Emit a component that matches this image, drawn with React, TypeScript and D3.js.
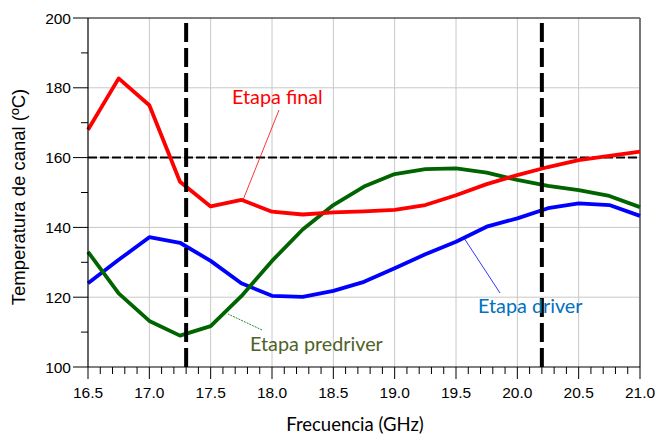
import React from "react";
import * as d3 from "d3";

const freqs = [16.5, 16.75, 17.0, 17.25, 17.5, 17.75, 18.0, 18.25, 18.5, 18.75, 19.0, 19.25, 19.5, 19.75, 20.0, 20.25, 20.5, 20.75, 21.0];
const etapaFinal = [168, 182.7, 175, 153.1, 146, 147.9, 144.5, 143.7, 144.3, 144.6, 145, 146.4, 149.2, 152.4, 155, 157.3, 159.3, 160.5, 161.7];
const etapaPredriver = [133, 121.1, 113.2, 109, 111.7, 120.3, 130.4, 139.4, 146.4, 151.7, 155.3, 156.7, 156.9, 155.7, 153.6, 151.9, 150.7, 149, 145.8];
const etapaDriver = [124, 130.7, 137.2, 135.6, 130.4, 124, 120.4, 120.1, 121.8, 124.4, 128.3, 132.3, 135.9, 140.2, 142.6, 145.5, 146.9, 146.4, 143.3];
const xTicks = [16.5, 17.0, 17.5, 18.0, 18.5, 19.0, 19.5, 20.0, 20.5, 21.0];
const yTicks = [100, 120, 140, 160, 180, 200];
const limitTemp = 160;
const bandFreqs = [17.3, 20.2];

const L = 88, T = 18, R = 640, B = 367;

export default function App() {
  const x = d3.scaleLinear().domain([16.5, 21]).range([L, R]);
  const y = d3.scaleLinear().domain([100, 200]).range([B, T]);
  const line = (vals: number[]) =>
    d3.line<number>().x((_, i) => x(freqs[i])).y((v) => y(v))(vals) || "";
  const minorX = d3.range(0, 46).map((i) => 16.5 + i * 0.1);
  const minorY = d3.range(0, 11).map((i) => 100 + i * 10);
  const sans = "'Liberation Sans', Arial, sans-serif";
  const lato = "Lato, 'Open Sans', sans-serif";
  return (
    <svg width={655} height={434} style={{ position: "absolute", left: 0, top: 0, background: "#fff" }}>
      {/* grid */}
      {xTicks.slice(1, -1).map((t) => (
        <line key={"gx" + t} x1={x(t)} x2={x(t)} y1={T} y2={B} stroke="#c8c8c8" strokeWidth={1} />
      ))}
      {yTicks.slice(1, -1).map((t) => (
        <line key={"gy" + t} x1={L} x2={R} y1={y(t)} y2={y(t)} stroke="#c8c8c8" strokeWidth={1} />
      ))}
      {/* borders */}
      <line x1={L} x2={R} y1={T} y2={T} stroke="#000" strokeWidth={1.2} />
      <line x1={R} x2={R} y1={T} y2={B} stroke="#777" strokeWidth={2} />
      {/* limit line */}
      <line x1={L} x2={R} y1={y(limitTemp)} y2={y(limitTemp)} stroke="#000" strokeWidth={2} strokeDasharray="9,3" />
      {/* series */}
      <path d={line(etapaDriver)} fill="none" stroke="#0000ff" strokeWidth={3.8} strokeLinejoin="round" />
      <path d={line(etapaPredriver)} fill="none" stroke="#006400" strokeWidth={3.8} strokeLinejoin="round" />
      <path d={line(etapaFinal)} fill="none" stroke="#ff0000" strokeWidth={3.8} strokeLinejoin="round" />
      {/* band lines */}
      {bandFreqs.map((f) => (
        <line key={"b" + f} x1={x(f)} x2={x(f)} y1={B} y2={T} stroke="#000" strokeWidth={4} strokeDasharray="19,6" strokeDashoffset={0} />
      ))}
      {/* axes */}
      <line x1={L} x2={L} y1={T} y2={B} stroke="#000" strokeWidth={1.2} />
      <line x1={L} x2={R} y1={B} y2={B} stroke="#000" strokeWidth={1.2} />
      {minorX.map((t, i) => (
        <line key={"mx" + i} x1={x(t)} x2={x(t)} y1={B} y2={B + (i % 5 === 0 ? 12 : 7)} stroke="#000" strokeWidth={1} />
      ))}
      {minorY.map((t, i) => (
        <line key={"my" + i} x1={L - (i % 2 === 0 ? 15 : 7)} x2={L} y1={y(t)} y2={y(t)} stroke="#000" strokeWidth={1} />
      ))}
      {xTicks.map((t) => (
        <text key={"xl" + t} x={x(t)} y={398} textAnchor="middle" fontFamily={sans} fontSize={15.5} fill="#000">
          {t.toFixed(1)}
        </text>
      ))}
      {yTicks.map((t) => (
        <text key={"yl" + t} x={71} y={y(t) + 5.5} textAnchor="end" fontFamily={sans} fontSize={15.5} fill="#000">
          {t}
        </text>
      ))}
      {/* axis titles */}
      <text x={355} y={431} textAnchor="middle" fontFamily={lato} fontSize={18.5} fill="#000">
        Frecuencia (GHz)
      </text>
      <text transform="translate(25,197) rotate(-90)" textAnchor="middle" fontFamily={sans} fontSize={18.5} fill="#000">
        Temperatura de canal (ºC)
      </text>
      {/* annotations */}
      <line x1={279} y1={110} x2={243} y2={200} stroke="#ff0000" strokeWidth={0.8} />
      <text x={232} y={104} fontFamily={lato} fontSize={19.8} fill="#ff0000">Etapa final</text>
      <line x1={262} y1={330} x2={228} y2={314} stroke="#006400" strokeWidth={0.8} strokeDasharray="2,1" />
      <text x={250} y={351} fontFamily={lato} fontSize={19.8} fill="#4f6228">Etapa predriver</text>
      <line x1={500} y1={293} x2={464} y2={238} stroke="#0000ff" strokeWidth={0.8} />
      <text x={478} y={313} fontFamily={lato} fontSize={19.8} fill="#0070c0">Etapa driver</text>
    </svg>
  );
}
